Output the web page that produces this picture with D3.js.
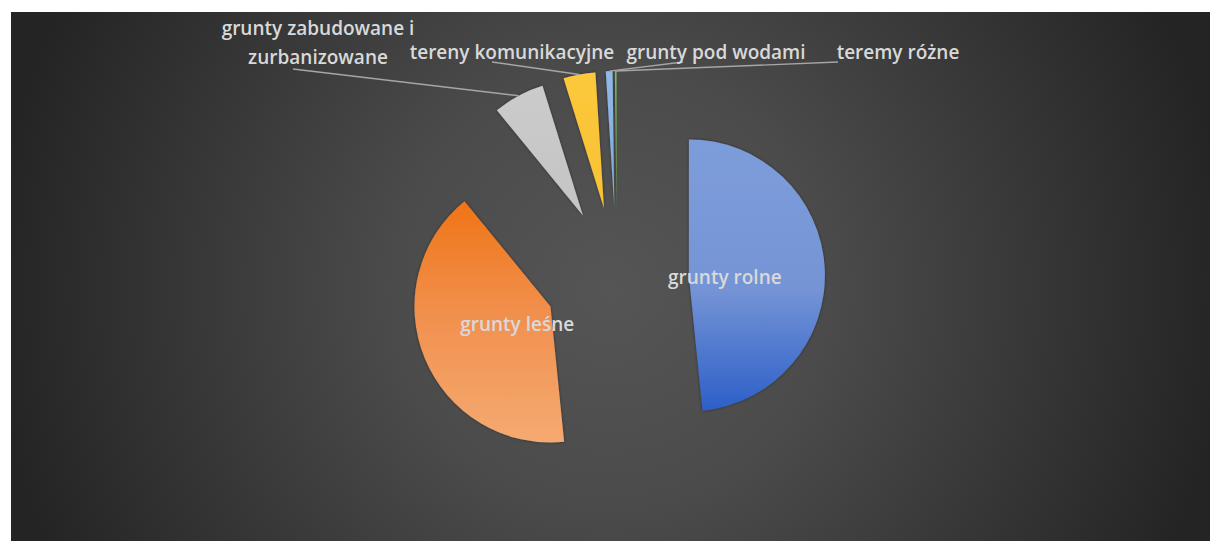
<!DOCTYPE html>
<html>
<head>
<meta charset="utf-8">
<script src="https://cdn.jsdelivr.net/npm/d3@7"></script>
<style>
  html, body { margin: 0; padding: 0; background: #ffffff; }
  svg { display: block; }
</style>
</head>
<body>
<svg id="chart" width="1210" height="541"></svg>
<script>
// ---- data ----
const categories = [
  "grunty rolne",
  "grunty leśne",
  "grunty zabudowane i zurbanizowane",
  "tereny komunikacyjne",
  "grunty pod wodami",
  "teremy różne"
];
const values = [48.4, 40.7, 6.1, 3.8, 0.8, 0.2];
const labelLines = [
  ["grunty rolne"],
  ["grunty leśne"],
  ["grunty zabudowane i", "zurbanizowane"],
  ["tereny komunikacyjne"],
  ["grunty pod wodami"],
  ["teremy różne"]
];

// ---- styles / layout ----
const gradStops = [
  [["0", "#7d9dda"], ["0.55", "#7594d5"], ["1", "#2c5fc8"]],
  [["0", "#ef7416"], ["0.45", "#f18f4c"], ["1", "#f5aa72"]],
  [["0", "#cbcbcb"], ["1", "#c4c4c4"]],
  [["0", "#fcc83c"], ["1", "#f7c232"]],
  [["0", "#92b8e6"], ["1", "#7eaadf"]],
  [["0", "#80b85a"], ["1", "#70ad47"]]
];
const W = 1210, H = 541;
const box = { x: 11, y: 12, w: 1199, h: 529 };
const center = { x: 617, y: 279 };
const R = 136;
const explode = 72;
// outside label placement: text centre, and leader-line start
const outside = {
  2: { x: 318, y: 28, lh: 29, lineFrom: [293, 69] },
  3: { x: 512, y: 52, lh: 0, lineFrom: [492, 62] },
  4: { x: 716, y: 52, lh: 0, lineFrom: [683, 62] },
  5: { x: 898, y: 52, lh: 0, lineFrom: [838, 62] }
};
const insideLabelRadius = 36;
const insideLabelShiftY = 4;

const svg = d3.select("#chart");
const defs = svg.append("defs");

// background radial gradient
const bg = defs.append("radialGradient")
  .attr("id", "bg").attr("gradientUnits", "userSpaceOnUse")
  .attr("cx", 610).attr("cy", 290).attr("r", 620);
bg.append("stop").attr("offset", "0").attr("stop-color", "#555555");
bg.append("stop").attr("offset", "0.35").attr("stop-color", "#4b4b4b");
bg.append("stop").attr("offset", "1").attr("stop-color", "#242424");

svg.append("rect")
  .attr("x", box.x).attr("y", box.y)
  .attr("width", box.w).attr("height", box.h)
  .attr("fill", "url(#bg)");

// slice gradients
gradStops.forEach((stops, i) => {
  const g = defs.append("linearGradient")
    .attr("id", "g" + i)
    .attr("x1", 0).attr("y1", 0).attr("x2", 0).attr("y2", 1);
  stops.forEach(s => g.append("stop").attr("offset", s[0]).attr("stop-color", s[1]));
});

// soft shadow
const f = defs.append("filter").attr("id", "shadow")
  .attr("x", "-20%").attr("y", "-20%").attr("width", "140%").attr("height", "140%");
f.append("feDropShadow").attr("dx", 0).attr("dy", 0)
  .attr("stdDeviation", 1.6).attr("flood-color", "#000").attr("flood-opacity", 0.45);

const pie = d3.pie().sort(null).value(d => d).startAngle(0).endAngle(2 * Math.PI);
const arcs = pie(values);
const arc = d3.arc().innerRadius(0).outerRadius(R);

function offset(a) {
  const mid = (a.startAngle + a.endAngle) / 2;
  return [center.x + explode * Math.sin(mid), center.y - explode * Math.cos(mid)];
}

const slices = svg.append("g");
slices.selectAll("path")
  .data(arcs)
  .join("path")
  .attr("transform", d => { const o = offset(d); return `translate(${o[0]},${o[1]})`; })
  .attr("d", arc)
  .attr("fill", (d, i) => `url(#g${i})`)
  .attr("filter", "url(#shadow)");

// leader lines
const lines = svg.append("g");
Object.keys(outside).forEach(k => {
  const i = +k;
  const a = arcs[i];
  const o = offset(a);
  const mid = (a.startAngle + a.endAngle) / 2;
  const end = [o[0] + R * Math.sin(mid), o[1] - R * Math.cos(mid)];
  lines.append("line")
    .attr("x1", outside[k].lineFrom[0]).attr("y1", outside[k].lineFrom[1])
    .attr("x2", end[0]).attr("y2", end[1])
    .attr("stroke", "#a6a6a6").attr("stroke-width", 1.4);
});

// labels
const labels = svg.append("g")
  .attr("font-family", "'Open Sans', sans-serif")
  .attr("font-weight", 600)
  .attr("font-size", 19)
  .attr("fill", "#d9d9d9")
  .attr("text-anchor", "middle");

arcs.forEach((a, i) => {
  let x, y, lh = 0;
  if (outside[i]) {
    x = outside[i].x; y = outside[i].y; lh = outside[i].lh;
  } else {
    const o = offset(a);
    const mid = (a.startAngle + a.endAngle) / 2;
    x = o[0] + insideLabelRadius * Math.sin(mid);
    y = o[1] - insideLabelRadius * Math.cos(mid) + insideLabelShiftY;
  }
  const t = labels.append("text").attr("x", x).attr("y", y);
  labelLines[i].forEach((ln, j) => {
    t.append("tspan").attr("x", x).attr("y", y + j * lh)
      .attr("dy", "0.35em").text(ln);
  });
});
</script>
</body>
</html>
